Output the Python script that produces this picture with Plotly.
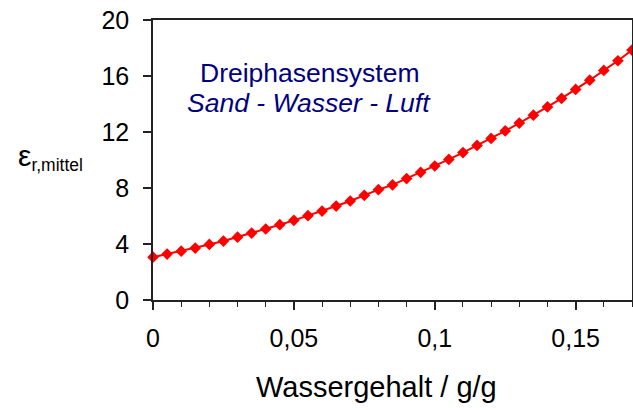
import plotly.graph_objects as go

# Wassergehalt (g/g) and mean relative permittivity
wassergehalt = [0.000, 0.005, 0.010, 0.015, 0.020, 0.025, 0.030, 0.035, 0.040,
                0.045, 0.050, 0.055, 0.060, 0.065, 0.070, 0.075, 0.080, 0.085,
                0.090, 0.095, 0.100, 0.105, 0.110, 0.115, 0.120, 0.125, 0.130,
                0.135, 0.140, 0.145, 0.150, 0.155, 0.160, 0.165, 0.170]
eps_mittel = [3.06, 3.28, 3.49, 3.71, 3.97, 4.21, 4.49, 4.78, 5.07,
              5.38, 5.69, 6.02, 6.35, 6.71, 7.07, 7.48, 7.88, 8.22,
              8.67, 9.12, 9.57, 10.04, 10.53, 11.04, 11.54, 12.08, 12.64,
              13.20, 13.79, 14.40, 15.04, 15.70, 16.40, 17.09, 17.85]

x_ticks = [0, 0.05, 0.1, 0.15]
y_ticks = [0, 4, 8, 12, 16, 20]

FONT = "Liberation Sans, Arial, sans-serif"
NAVY = "#000080"

# plot area in pixels
L, R, T, B = 153, 1, 20, 110
pw, ph = 633 - L - R, 410 - T - B


def px(x, y):
    # pixel position (from top-left) -> paper fractions
    return (x - L) / pw, (410 - y - B) / ph


fig = go.Figure()
fig.add_trace(go.Scatter(
    x=wassergehalt, y=eps_mittel,
    mode="lines+markers",
    line=dict(color="#ff0000", width=2),
    marker=dict(symbol="diamond", size=9, color="#ff0000"),
    cliponaxis=False,
    showlegend=False,
))

notes = [
    ("Dreiphasensystem", 309, 73, 26.5, NAVY),
    ("<i>Sand - Wasser - Luft</i>", 309, 103, 26.5, NAVY),
    ("Wassergehalt / g/g", 376, 387, 29, "black"),
    ("<span style='font-size:30px'>ε</span><sub>r,mittel</sub>", 50, 157, 25, "black"),
]
annotations = []
for text, x, y, size, color in notes:
    ax, ay = px(x, y)
    annotations.append(dict(text=text, x=ax, y=ay, xref="paper", yref="paper",
                            xanchor="center", yanchor="middle",
                            showarrow=False, font=dict(size=size, color=color)))

fig.update_layout(
    width=633, height=410,
    margin=dict(l=L, r=R, t=T, b=B, autoexpand=False),
    plot_bgcolor="white",
    paper_bgcolor="white",
    separators=", ",
    font=dict(family=FONT, size=25, color="black"),
    xaxis=dict(
        range=[0, 0.17],
        tickvals=x_ticks,
        ticks="outside", ticklen=8, tickwidth=1.5, tickcolor="#222",
        minor=dict(dtick=0.01, ticks="outside", ticklen=5, tickwidth=1, tickcolor="#222"),
        ticklabelstandoff=7,
        showline=True, linecolor="#222", linewidth=1.5, mirror=True,
        showgrid=False, zeroline=False, automargin=False,
    ),
    yaxis=dict(
        range=[0, 20],
        tickvals=y_ticks,
        ticks="outside", ticklen=8, tickwidth=1.5, tickcolor="#222",
        ticklabelstandoff=9,
        showline=True, linecolor="#222", linewidth=1.5, mirror=True,
        showgrid=False, zeroline=False, automargin=False,
    ),
    annotations=annotations,
)

# drop the browser's default 8px page margin so the figure sits at the corner
fig.write_html("out.html", config={"displayModeBar": False},
               post_script="document.body.style.margin='0';")
